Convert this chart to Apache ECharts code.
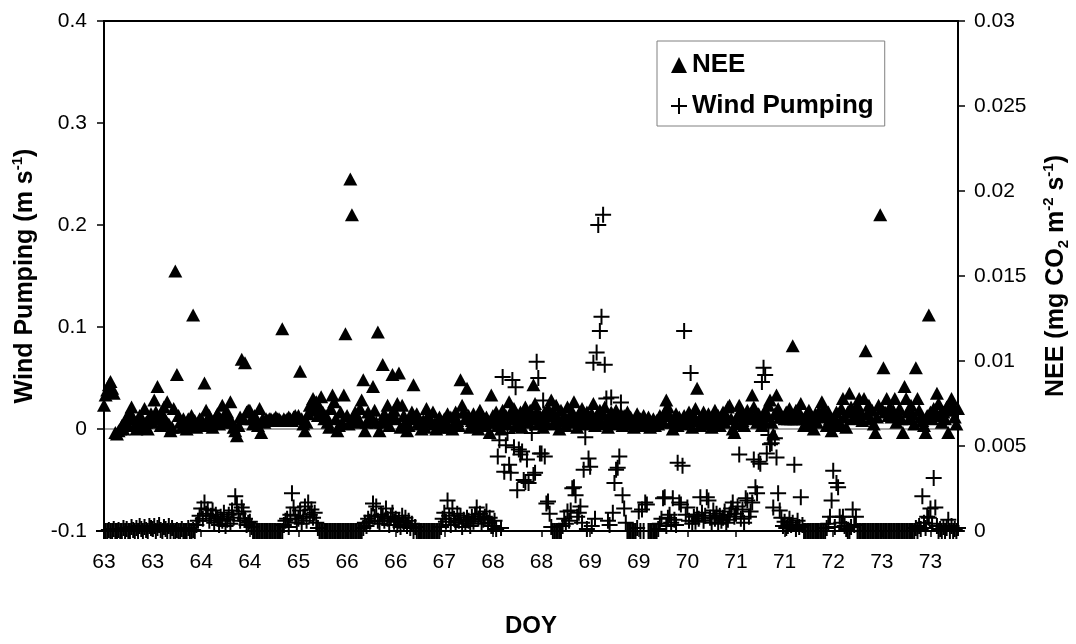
<!DOCTYPE html>
<html>
<head>
<meta charset="utf-8">
<title>Wind Pumping and NEE vs DOY</title>
<script src="https://cdn.jsdelivr.net/npm/echarts@6/dist/echarts.min.js"></script>
<style>
  html, body { margin: 0; padding: 0; background: #fff; }
  #chart { width: 1076px; height: 644px; }
</style>
</head>
<body>
<div id="chart"></div>
<script>
// Half-hourly records, DOY 63.0 onward; one label every 30 records (0.625 day).
const tickLabels = ['63','63','64','64','65','66','66','67','68','68','69','69','70','71','71','72','73','73'];
const TICK_STEP = 30;

// NEE (mg CO2 m-2 s-1), right axis
const nee = [
  0.0074,0.0080,0.0083,0.0086,0.0088,0.0084,0.0081,0.0058,0.0057,0.0059,0.0060,0.0062,0.0060,0.0064,0.0067,0.0062,0.0070,0.0073,0.0066,0.0062,0.0060,0.0063,0.0068,0.0061,0.0065,0.0072,0.0064,0.0060,0.0066,0.0069,
  0.0064,0.0077,0.0070,0.0085,0.0066,0.0062,0.0069,0.0073,0.0065,0.0076,0.0063,0.0059,0.0061,0.0072,0.0153,0.0092,0.0068,0.0064,0.0061,0.0066,0.0063,0.0060,0.0066,0.0062,0.0068,0.0127,0.0065,0.0061,0.0063,0.0066,
  0.0066,0.0062,0.0087,0.0071,0.0065,0.0068,0.0063,0.0061,0.0064,0.0067,0.0069,0.0063,0.0066,0.0074,0.0068,0.0064,0.0070,0.0066,0.0076,0.0064,0.0061,0.0059,0.0056,0.0062,0.0067,0.0101,0.0066,0.0099,0.0070,0.0071,
  0.0071,0.0066,0.0063,0.0068,0.0065,0.0062,0.0072,0.0058,0.0066,0.0064,0.0066,0.0065,0.0066,0.0066,0.0065,0.0066,0.0067,0.0066,0.0066,0.0065,0.0119,0.0066,0.0065,0.0066,0.0067,0.0066,0.0065,0.0067,0.0068,0.0066,
  0.0068,0.0094,0.0066,0.0063,0.0059,0.0064,0.0069,0.0074,0.0072,0.0078,0.0071,0.0076,0.0068,0.0073,0.0079,0.0070,0.0066,0.0068,0.0064,0.0061,0.0072,0.0080,0.0076,0.0066,0.0059,0.0062,0.0070,0.0064,0.0080,0.0116,
  0.0068,0.0063,0.0207,0.0186,0.0066,0.0070,0.0064,0.0066,0.0072,0.0077,0.0089,0.0059,0.0064,0.0070,0.0066,0.0067,0.0085,0.0071,0.0064,0.0117,0.0059,0.0064,0.0098,0.0069,0.0066,0.0074,0.0062,0.0068,0.0092,0.0071,
  0.0066,0.0075,0.0093,0.0061,0.0074,0.0068,0.0064,0.0059,0.0062,0.0067,0.0070,0.0086,0.0066,0.0069,0.0064,0.0063,0.0060,0.0065,0.0061,0.0072,0.0068,0.0066,0.0064,0.0070,0.0063,0.0060,0.0062,0.0067,0.0061,0.0064,
  0.0066,0.0064,0.0069,0.0061,0.0067,0.0060,0.0063,0.0070,0.0065,0.0062,0.0089,0.0074,0.0070,0.0066,0.0084,0.0068,0.0061,0.0065,0.0069,0.0063,0.0067,0.0060,0.0071,0.0066,0.0063,0.0062,0.0067,0.0064,0.0058,0.0080,
  0.0068,0.0064,0.0070,0.0062,0.0066,0.0060,0.0071,0.0065,0.0068,0.0063,0.0076,0.0070,0.0066,0.0072,0.0062,0.0068,0.0065,0.0070,0.0061,0.0067,0.0073,0.0069,0.0064,0.0071,0.0066,0.0086,0.0075,0.0070,0.0063,0.0068,
  0.0066,0.0061,0.0070,0.0064,0.0072,0.0068,0.0077,0.0063,0.0069,0.0074,0.0066,0.0060,0.0071,0.0065,0.0068,0.0062,0.0073,0.0067,0.0064,0.0070,0.0076,0.0066,0.0061,0.0069,0.0064,0.0072,0.0067,0.0063,0.0070,0.0065,
  0.0064,0.0069,0.0075,0.0062,0.0068,0.0066,0.0071,0.0063,0.0069,0.0073,0.0065,0.0061,0.0067,0.0070,0.0064,0.0068,0.0071,0.0063,0.0066,0.0069,0.0062,0.0068,0.0065,0.0070,0.0063,0.0067,0.0064,0.0061,0.0066,0.0069,
  0.0064,0.0066,0.0062,0.0068,0.0065,0.0063,0.0067,0.0061,0.0064,0.0066,0.0062,0.0065,0.0063,0.0068,0.0066,0.0064,0.0070,0.0077,0.0073,0.0068,0.0064,0.0060,0.0066,0.0069,0.0062,0.0067,0.0065,0.0063,0.0068,0.0066,
  0.0064,0.0070,0.0066,0.0061,0.0068,0.0072,0.0084,0.0065,0.0062,0.0067,0.0070,0.0063,0.0066,0.0069,0.0064,0.0061,0.0067,0.0071,0.0065,0.0068,0.0062,0.0066,0.0070,0.0064,0.0068,0.0073,0.0074,0.0066,0.0060,0.0058,
  0.0063,0.0068,0.0074,0.0070,0.0065,0.0062,0.0067,0.0071,0.0066,0.0069,0.0080,0.0073,0.0068,0.0064,0.0069,0.0066,0.0062,0.0065,0.0071,0.0068,0.0074,0.0077,0.0064,0.0057,0.0069,0.0080,0.0072,0.0067,0.0067,0.0067,
  0.0066,0.0070,0.0066,0.0072,0.0066,0.0109,0.0066,0.0071,0.0066,0.0070,0.0075,0.0066,0.0062,0.0068,0.0065,0.0071,0.0063,0.0067,0.0060,0.0069,0.0064,0.0070,0.0067,0.0076,0.0072,0.0068,0.0062,0.0070,0.0066,0.0059,
  0.0062,0.0066,0.0070,0.0062,0.0064,0.0072,0.0078,0.0067,0.0061,0.0070,0.0081,0.0073,0.0066,0.0071,0.0068,0.0074,0.0078,0.0070,0.0065,0.0078,0.0106,0.0069,0.0074,0.0066,0.0071,0.0063,0.0058,0.0067,0.0074,0.0186,
  0.0072,0.0096,0.0070,0.0078,0.0068,0.0073,0.0067,0.0071,0.0078,0.0064,0.0068,0.0072,0.0066,0.0058,0.0085,0.0078,0.0070,0.0066,0.0074,0.0069,0.0063,0.0096,0.0078,0.0071,0.0067,0.0065,0.0062,0.0058,0.0068,0.0127,
  0.0070,0.0066,0.0072,0.0068,0.0081,0.0075,0.0069,0.0064,0.0070,0.0066,0.0073,0.0058,0.0071,0.0078,0.0074,0.0067,0.0063,0.0072
];

// Wind pumping (m s-1), left axis
const windPumping = [
  -0.1,-0.1,-0.1,-0.099,-0.1,-0.1,-0.098,-0.1,-0.1,-0.099,-0.1,-0.1,-0.097,-0.1,-0.098,-0.1,-0.1,-0.096,-0.099,-0.1,-0.097,-0.1,-0.095,-0.098,-0.1,-0.096,-0.099,-0.1,-0.095,-0.097,
  -0.098,-0.095,-0.1,-0.097,-0.094,-0.099,-0.1,-0.096,-0.098,-0.1,-0.095,-0.1,-0.097,-0.1,-0.1,-0.099,-0.1,-0.1,-0.098,-0.1,-0.1,-0.1,-0.097,-0.1,-0.1,-0.099,-0.1,-0.094,-0.09,-0.085,
  -0.078,-0.088,-0.072,-0.083,-0.079,-0.09,-0.085,-0.08,-0.092,-0.084,-0.088,-0.094,-0.086,-0.09,-0.082,-0.095,-0.089,-0.084,-0.093,-0.08,-0.087,-0.066,-0.074,-0.083,-0.09,-0.077,-0.081,-0.088,-0.094,-0.092,
  -0.091,-0.096,-0.1,-0.1,-0.1,-0.1,-0.1,-0.1,-0.1,-0.1,-0.1,-0.1,-0.1,-0.1,-0.1,-0.1,-0.1,-0.1,-0.1,-0.1,-0.1,-0.094,-0.09,-0.088,-0.096,-0.084,-0.063,-0.077,-0.085,-0.092,
  -0.088,-0.08,-0.093,-0.086,-0.076,-0.09,-0.072,-0.084,-0.079,-0.087,-0.082,-0.092,-0.097,-0.1,-0.1,-0.1,-0.1,-0.1,-0.1,-0.1,-0.1,-0.1,-0.1,-0.1,-0.1,-0.1,-0.1,-0.1,-0.1,-0.1,
  -0.1,-0.1,-0.1,-0.1,-0.1,-0.1,-0.1,-0.1,-0.1,-0.1,-0.097,-0.092,-0.095,-0.088,-0.091,-0.085,-0.073,-0.086,-0.076,-0.09,-0.093,-0.084,-0.086,-0.09,-0.078,-0.088,-0.094,-0.086,-0.082,-0.091,
  -0.088,-0.094,-0.09,-0.096,-0.085,-0.092,-0.087,-0.095,-0.09,-0.097,-0.093,-0.1,-0.096,-0.1,-0.1,-0.1,-0.1,-0.1,-0.1,-0.1,-0.1,-0.1,-0.1,-0.1,-0.1,-0.1,-0.1,-0.1,-0.096,-0.088,
  -0.082,-0.091,-0.07,-0.085,-0.094,-0.078,-0.088,-0.092,-0.083,-0.09,-0.085,-0.096,-0.089,-0.093,-0.087,-0.09,-0.095,-0.086,-0.091,-0.084,-0.077,-0.088,-0.083,-0.093,-0.089,-0.086,-0.081,-0.092,-0.087,-0.095,
  -0.095,-0.09,-0.098,-0.027,-0.011,-0.097,0.051,-0.042,-0.016,-0.004,-0.035,-0.043,0.048,-0.018,0.041,-0.06,-0.02,-0.025,-0.022,-0.05,-0.052,-0.03,-0.053,0.006,-0.004,-0.045,-0.043,0.066,0.05,-0.024,
  -0.024,0.028,-0.027,-0.073,-0.071,-0.083,-0.096,-0.1,-0.1,-0.1,-0.1,-0.1,-0.1,-0.095,-0.088,-0.093,-0.081,-0.09,-0.08,-0.058,-0.057,-0.065,-0.086,-0.082,-0.076,-0.092,-0.04,-0.008,-0.098,-0.029,
  -0.037,-0.095,0.065,-0.088,0.075,0.2,0.096,0.11,0.21,0.063,0.03,-0.09,-0.094,0.031,-0.082,-0.053,-0.04,-0.038,-0.027,0.026,-0.065,-0.078,-0.092,-0.1,-0.1,-0.1,-0.1,-0.1,-0.1,-0.097,
  -0.081,-0.1,-0.079,-0.1,-0.072,-0.074,-0.1,-0.1,-0.1,-0.1,-0.1,-0.1,-0.098,-0.093,-0.088,-0.068,-0.067,-0.095,-0.087,-0.084,-0.092,-0.068,-0.089,-0.094,-0.033,-0.072,-0.074,-0.036,0.096,-0.084,
  -0.077,-0.09,0.055,-0.093,-0.086,-0.091,-0.084,-0.088,-0.067,-0.082,-0.09,-0.085,-0.067,-0.07,-0.087,-0.092,-0.08,-0.088,-0.083,-0.093,-0.085,-0.09,-0.087,-0.081,-0.092,-0.089,-0.084,-0.078,-0.072,-0.086,
  -0.083,-0.076,-0.025,-0.088,-0.079,-0.092,-0.068,-0.07,-0.086,-0.081,-0.072,-0.03,-0.057,-0.063,-0.032,-0.034,0.046,0.06,0.053,-0.024,-0.006,-0.015,-0.014,-0.077,-0.009,-0.028,-0.063,-0.08,-0.087,-0.095,
  -0.091,-0.097,-0.095,-0.088,-0.094,-0.092,-0.035,-0.098,-0.09,-0.096,-0.067,-0.094,-0.1,-0.1,-0.1,-0.1,-0.1,-0.1,-0.1,-0.1,-0.1,-0.1,-0.1,-0.1,-0.1,-0.1,-0.097,-0.093,-0.086,-0.07,
  -0.041,-0.096,-0.053,-0.057,-0.086,-0.092,-0.086,-0.095,-0.098,-0.1,-0.1,-0.096,-0.079,-0.094,-0.086,-0.1,-0.1,-0.1,-0.1,-0.1,-0.1,-0.1,-0.1,-0.1,-0.1,-0.1,-0.1,-0.1,-0.1,-0.1,
  -0.1,-0.1,-0.1,-0.1,-0.1,-0.1,-0.1,-0.1,-0.1,-0.1,-0.1,-0.1,-0.1,-0.1,-0.1,-0.1,-0.1,-0.1,-0.1,-0.1,-0.1,-0.097,-0.1,-0.095,-0.098,-0.066,-0.092,-0.097,-0.086,-0.087,
  -0.078,-0.093,-0.048,-0.077,-0.095,-0.1,-0.098,-0.1,-0.096,-0.1,-0.097,-0.089,-0.1,-0.095,-0.1,-0.098,-0.1,-0.097
];

// Category axis: one slot per record, labelled every TICK_STEP records
const categories = nee.map((_, i) => (i % TICK_STEP === 0 ? tickLabels[i / TICK_STEP] : ''));
const onTick = (i) => i % TICK_STEP === 0;

const FONT = "'Liberation Sans', Arial, sans-serif";
const plusPath = 'path://M7,0H9V7H16V9H9V16H7V9H0V7H7Z';

const titleStyle = {
  fontFamily: FONT, fontSize: 25, fontWeight: 'bold', color: '#000', lineHeight: 30,
  rich: {
    sup: { fontFamily: FONT, fontSize: 15, fontWeight: 'bold', color: '#000', verticalAlign: 'top', lineHeight: 15 },
    sub: { fontFamily: FONT, fontSize: 15, fontWeight: 'bold', color: '#000', verticalAlign: 'bottom', lineHeight: 15 }
  }
};
const tickText = { fontFamily: FONT, fontSize: 21, color: '#000' };

const chart = echarts.init(document.getElementById('chart'), null, { renderer: 'canvas' });
chart.setOption({
  animation: false,
  backgroundColor: '#fff',
  grid: {
    left: 104, right: 118, top: 21, bottom: 113,
    outerBoundsMode: 'none', containLabel: false,
    show: true, borderColor: '#000', borderWidth: 2, backgroundColor: 'transparent'
  },
  legend: {
    left: 657, top: 41, orient: 'vertical',
    padding: [11, 11, 7, 14], itemGap: 15, itemWidth: 16, itemHeight: 16,
    borderColor: '#808080', borderWidth: 1, backgroundColor: '#fff',
    textStyle: { fontFamily: FONT, fontSize: 26, fontWeight: 'bold', color: '#000' },
    data: [
      { name: 'NEE', icon: 'triangle', itemStyle: { opacity: 1 } },
      { name: 'Wind Pumping', icon: plusPath, itemStyle: { opacity: 1 } }
    ]
  },
  xAxis: {
    type: 'category', data: categories, boundaryGap: false,
    name: 'DOY', nameLocation: 'middle', nameGap: 83,
    nameTextStyle: { fontFamily: FONT, fontSize: 24, fontWeight: 'bold', color: '#000' },
    axisLine: { onZero: false, lineStyle: { color: '#000', width: 2 } },
    axisTick: { show: true, interval: onTick, length: 6, lineStyle: { color: '#000', width: 1.5 } },
    axisLabel: { interval: onTick, margin: 21, ...tickText },
    splitLine: { show: false }
  },
  yAxis: [
    {
      type: 'value', min: -0.1, max: 0.4, interval: 0.1, position: 'left',
      name: 'Wind Pumping (m s{sup|-1})', nameLocation: 'middle', nameRotate: 90, nameGap: 57,
      nameTextStyle: titleStyle,
      axisLine: { show: true, lineStyle: { color: '#000', width: 2 } },
      axisTick: { show: true, length: 7, lineStyle: { color: '#000', width: 1.5 } },
      axisLabel: { margin: 17, ...tickText },
      // only the zero line is drawn, in grey
      splitLine: { show: true, lineStyle: { color: ['rgba(0,0,0,0)', '#8a8a8a', 'rgba(0,0,0,0)', 'rgba(0,0,0,0)', 'rgba(0,0,0,0)', 'rgba(0,0,0,0)'], width: 1.5 } }
    },
    {
      type: 'value', min: 0, max: 0.03, interval: 0.005, position: 'right',
      name: 'NEE (mg CO{sub|2} m{sup|-2} s{sup|-1})', nameLocation: 'middle', nameRotate: 90, nameGap: 83,
      nameTextStyle: titleStyle,
      axisLine: { show: true, lineStyle: { color: '#000', width: 2 } },
      axisTick: { show: true, length: 7, lineStyle: { color: '#000', width: 1.5 } },
      axisLabel: { margin: 16, ...tickText },
      splitLine: { show: false }
    }
  ],
  series: [
    {
      name: 'NEE', type: 'scatter', yAxisIndex: 1, data: nee,
      symbol: 'triangle', symbolSize: [14, 13],
      itemStyle: { color: '#000', opacity: 1 }, emphasis: { disabled: true }
    },
    {
      name: 'Wind Pumping', type: 'scatter', yAxisIndex: 0, data: windPumping,
      symbol: plusPath, symbolSize: 16,
      itemStyle: { color: '#000', opacity: 1 }, emphasis: { disabled: true }
    }
  ]
});
</script>
</body>
</html>
